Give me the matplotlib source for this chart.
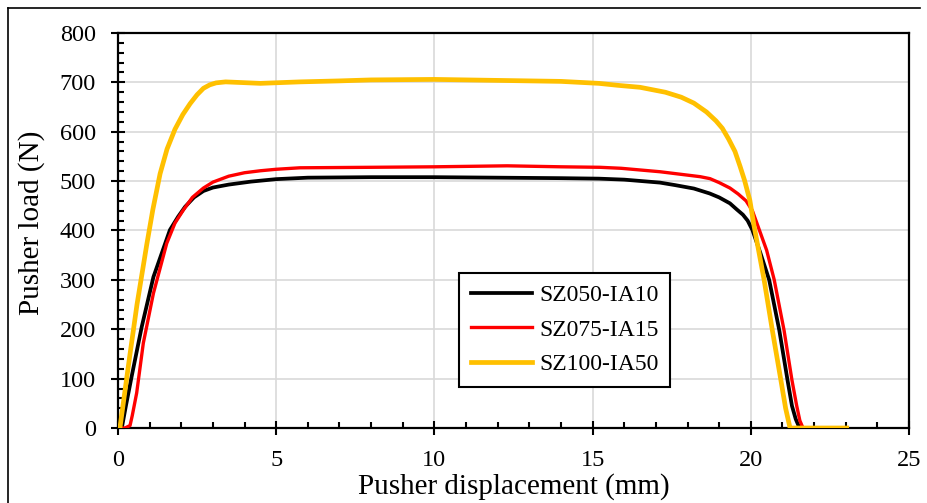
import matplotlib.pyplot as plt
import numpy as np
from matplotlib.lines import Line2D
from matplotlib.ticker import MultipleLocator

plt.rcParams['font.family'] = ['Liberation Serif', 'DejaVu Serif']

# SZ050-IA10 (black)
x_050 = [0, 0.12, 0.25, 0.43, 0.75, 1.12, 1.64, 1.9, 2.12, 2.4, 2.7, 3.0, 3.5, 4.2, 5,
         6, 8, 10, 12, 14, 15.2, 16, 17.13, 17.6, 18.2, 18.7, 19.0, 19.34, 19.55,
         19.75, 19.9, 20.05, 20.3, 20.58, 20.9, 21.16, 21.3, 21.42, 21.5, 21.57, 23.0]
y_050 = [0, 0, 45, 104, 205, 306, 401, 428, 448, 467, 480, 487, 493, 499, 504,
         507, 508, 508, 507, 506, 505, 503, 497, 492, 485, 475, 467, 455, 443,
         432, 420, 401, 355, 300, 198, 97, 45, 18, 6, 0, 0]

# SZ075-IA15 (red)
x_075 = [0, 0.22, 0.38, 0.45, 0.59, 0.8, 1.12, 1.54, 1.8, 2.06, 2.35, 2.7, 3.0, 3.5,
         4.0, 4.5, 5, 5.75, 8, 10, 12.3, 14, 15.23, 15.9, 17.13, 18.4, 18.71, 19.0,
         19.34, 19.6, 19.85, 20.05, 20.27, 20.5, 20.74, 21.05, 21.3, 21.45, 21.55,
         21.65, 23.0]
y_075 = [0, 0, 5, 25, 71, 172, 273, 374, 415, 441, 467, 486, 498, 510,
         517, 521, 524, 527, 528, 529, 531, 529, 528, 526, 519, 509, 505, 497,
         486, 474, 460, 440, 401, 360, 300, 198, 97, 45, 15,
         0, 0]

# SZ100-IA50 (yellow)
x_100 = [0, 0.06, 0.22, 0.38, 0.6, 0.91, 1.1, 1.33, 1.55, 1.8, 2.05, 2.28, 2.5, 2.7,
         2.9, 3.1, 3.4, 4.5, 5.75, 7, 8, 10, 12, 14, 15.2, 15.8, 16.5, 17.3, 17.8,
         18.2, 18.6, 18.9, 19.1, 19.3, 19.5, 19.66, 19.8, 19.97, 20.1, 20.42, 20.68,
         20.95, 21.1, 21.24, 23.03]
y_100 = [0, 0, 75, 150, 250, 372, 442, 515, 565, 605, 635, 657, 675, 688,
         695, 699, 701, 698, 701, 703, 705, 706, 704, 702, 698, 694, 690, 680, 670,
         658, 640, 622, 607, 585, 560, 530, 502, 461, 410, 300, 198,
         97, 40, 0, 0]

labels = ["SZ050-IA10", "SZ075-IA15", "SZ100-IA50"]
colors = ["#000000", "#ff0000", "#ffc000"]

fig = plt.figure(figsize=(9.27, 5.03), dpi=100)
ax = fig.add_axes([0.1273, 0.1491, 0.8533, 0.7853])

ax.plot(x_050, y_050, color=colors[0], lw=2.7, label=labels[0], zorder=3,
        solid_joinstyle='round')
ax.plot(x_075, y_075, color=colors[1], lw=2.4, label=labels[1], zorder=3,
        solid_joinstyle='round')
ax.plot(x_100, y_100, color=colors[2], lw=3.4, label=labels[2], zorder=4,
        solid_joinstyle='round')

ax.set_xlim(0, 25)
ax.set_ylim(0, 800)
ax.xaxis.set_major_locator(MultipleLocator(5))
ax.xaxis.set_minor_locator(MultipleLocator(1))
ax.yaxis.set_major_locator(MultipleLocator(100))
ax.yaxis.set_minor_locator(MultipleLocator(20))
ax.tick_params(which='major', direction='inout', length=10, width=1.5,
               labelsize=17.5, pad=11)
ax.tick_params(which='minor', direction='in', length=4.5, width=1.5)
ax.grid(True, which='major', color='#d9d9d9', lw=1.2, zorder=0)
ax.set_axisbelow(True)
for s in ax.spines.values():
    s.set_linewidth(1.6)

ax.set_xlabel("Pusher displacement (mm)", fontsize=21)
ax.set_ylabel("Pusher load (N)", fontsize=21)
ax.xaxis.set_label_coords(0.5, -0.113)
ax.yaxis.set_label_coords(-0.092, 0.52)

leg = ax.legend(loc='lower left', bbox_to_anchor=(0.431, 0.104), borderaxespad=0,
                fontsize=17, fancybox=False, framealpha=1, edgecolor='black',
                handlelength=2.6, labelspacing=0.55, borderpad=0.5,
                handletextpad=0.3)
leg.get_frame().set_linewidth(1.5)

# outer frame of the figure
fig.add_artist(Line2D([8 / 927, 920 / 927], [1 - 8 / 503, 1 - 8 / 503],
                      color='black', lw=1.2, transform=fig.transFigure))
fig.add_artist(Line2D([8 / 927, 8 / 927], [0, 1 - 8 / 503],
                      color='black', lw=1.2, transform=fig.transFigure))

fig.savefig("out.png", dpi=100)
